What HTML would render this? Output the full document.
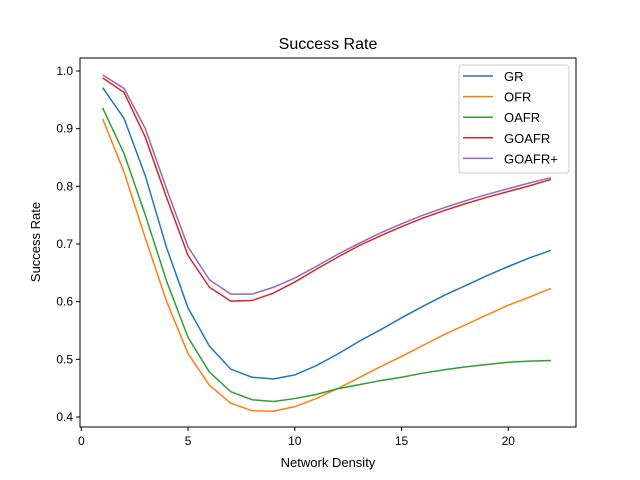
<!DOCTYPE html>
<html><head><meta charset="utf-8"><style>
body{margin:0;background:#fff;}
svg{display:block;font-family:"Liberation Sans","DejaVu Sans",sans-serif;}
</style></head><body>
<svg id="chart" width="640" height="480" xmlns="http://www.w3.org/2000/svg">
<rect width="640" height="480" fill="#fff"/>
<text x="328" y="49" font-size="16" text-anchor="middle">Success Rate</text>
<g id="plot"></g>
<rect x="80" y="58" width="496" height="369" fill="none" stroke="#000" stroke-width="1"/>
<text x="328" y="467" font-size="13" text-anchor="middle">Network Density</text>
<text x="0" y="0" font-size="13" text-anchor="middle" transform="translate(40,242) rotate(-90)">Success Rate</text>
<g id="legend"></g>
</svg>
<script>
const xs=[1,2,3,4,5,6,7,8,9,10,11,12,13,14,15,16,17,18,19,20,21,22];
const seriesNames=["GR","OFR","OAFR","GOAFR","GOAFR+"];
const gr=[.971,.918,.818,.693,.589,.523,.483,.469,.466,.473,.489,.509,.531,.551,.572,.592,.611,.628,.645,.661,.676,.689];
const ofr=[.917,.825,.71,.6,.51,.455,.424,.411,.41,.418,.432,.449,.468,.487,.505,.524,.543,.56,.577,.594,.608,.623];
const oafr=[.936,.857,.75,.635,.538,.478,.444,.43,.427,.432,.439,.449,.456,.463,.469,.476,.482,.487,.491,.495,.497,.498];
const goafr=[.988,.963,.885,.78,.68,.625,.601,.602,.615,.634,.656,.677,.697,.714,.73,.745,.758,.77,.781,.791,.801,.812];
const goafrp=[.993,.970,.9,.795,.695,.638,.613,.613,.625,.641,.661,.682,.701,.719,.735,.75,.763,.775,.786,.796,.806,.815];
const xTicks=[0,5,10,15,20];
const yTicks=[0.4,0.5,0.6,0.7,0.8,0.9,1.0];
const colors=["#1f77b4","#ff7f0e","#2ca02c","#d62728","#9467bd"];
const NS="http://www.w3.org/2000/svg";
function X(v){return 81.3+v*21.35;}
function Y(v){return 71+(1-v)*576.7;}
const plot=document.getElementById('plot');
const svg=document.getElementById('chart');
function mk(tag,attrs,parent){const e=document.createElementNS(NS,tag);for(const k in attrs)e.setAttribute(k,attrs[k]);parent.appendChild(e);return e;}
xTicks.forEach(t=>{
  const l=mk('line',{x1:X(t),x2:X(t),y1:427,y2:431,stroke:'#000'},svg);
  
  
  const tx=mk('text',{x:X(t),y:445,'font-size':12,'text-anchor':'middle'},svg);tx.textContent=t;
  
  
});
yTicks.forEach(t=>{
  const l=mk('line',{x1:76,x2:80,y1:Y(t),y2:Y(t),stroke:'#000'},svg);
  
  
  const tx=mk('text',{x:73,y:Y(t)+4,'font-size':12,'text-anchor':'end'},svg);tx.textContent=t.toFixed(1);
  
  
});
[gr,ofr,oafr,goafr,goafrp].forEach((s,i)=>{
  const p=mk('polyline',{points:s.map((v,j)=>X(xs[j])+','+Y(v)).join(' '),fill:'none',stroke:colors[i],'stroke-width':1.5},plot);
  
  
});
const lg=document.getElementById('legend');
const box=mk('rect',{x:459,y:65,width:110,height:108,rx:3,fill:'#fff','fill-opacity':0.8,stroke:'#ccc'},lg);


seriesNames.forEach((n,i)=>{
  const y=76+i*20.6;
  const l=mk('line',{x1:463,x2:493,y1:y,y2:y,stroke:colors[i],'stroke-width':1.5},lg);
  
  
  const t=mk('text',{x:504,y:y+5,'font-size':13},lg);t.textContent=n;
  
  
});
</script>
</body></html>
